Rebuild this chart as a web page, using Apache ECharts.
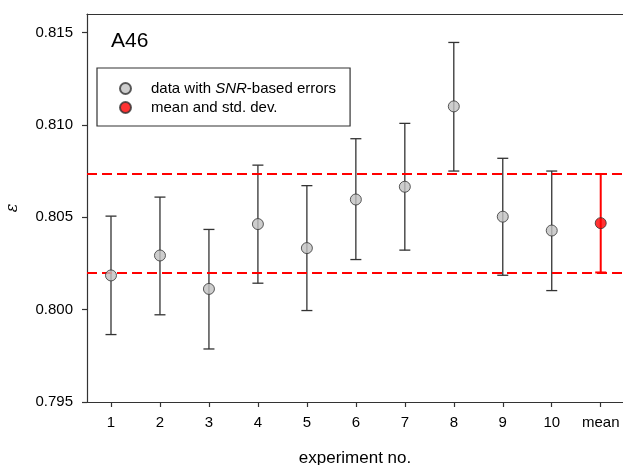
<!DOCTYPE html>
<html>
<head>
<meta charset="utf-8">
<script src="https://cdn.jsdelivr.net/npm/echarts@6/dist/echarts.min.js"></script>
<style>html,body{margin:0;padding:0;background:#fff;}#c{width:623px;height:465px;}</style>
</head>
<body>
<div id="c"></div>
<script>
// Data
var xPositions = [1, 2, 3, 4, 5, 6, 7, 8, 9, 10];
var xLabels = ['1', '2', '3', '4', '5', '6', '7', '8', '9', '10', 'mean'];
var values = [0.80185, 0.80293, 0.80112, 0.80463, 0.80333, 0.80596, 0.80665, 0.81100, 0.80503, 0.80428];
var lowers = [0.79865, 0.79972, 0.79787, 0.80143, 0.79995, 0.80271, 0.80322, 0.80750, 0.80186, 0.80103];
var uppers = [0.80506, 0.80609, 0.80434, 0.80782, 0.80671, 0.80925, 0.81008, 0.81446, 0.80819, 0.80750];
var meanPos = 11;
var meanValue = 0.80468;
var meanLower = 0.80201;
var meanUpper = 0.80734;
var yTicks = [0.795, 0.800, 0.805, 0.810, 0.815];
var xTicks = [1, 2, 3, 4, 5, 6, 7, 8, 9, 10, 11];

var FONT = '"Liberation Sans", Arial, sans-serif';
var chart = echarts.init(document.getElementById('c'));

function errRender(color, width) {
  return function (params, api) {
    var x = api.value(0);
    var lo = api.coord([x, api.value(1)]);
    var hi = api.coord([x, api.value(2)]);
    var hw = 5.5;
    var style = { stroke: color, lineWidth: width, fill: null };
    return {
      type: 'group',
      children: [
        { type: 'line', shape: { x1: lo[0], y1: lo[1], x2: hi[0], y2: hi[1] }, style: style },
        { type: 'line', shape: { x1: lo[0] - hw, y1: lo[1], x2: lo[0] + hw, y2: lo[1] }, style: style },
        { type: 'line', shape: { x1: hi[0] - hw, y1: hi[1], x2: hi[0] + hw, y2: hi[1] }, style: style }
      ]
    };
  };
}

var dataPoints = xPositions.map(function (x, i) { return [x, values[i]]; });
var dataErr = xPositions.map(function (x, i) { return [x, lowers[i], uppers[i]]; });

chart.setOption({
  animation: false,
  backgroundColor: '#fff',
  textStyle: { fontFamily: FONT },
  grid: { left: 87, top: 14, right: 0, bottom: 63, containLabel: false, outerBoundsMode: 'none' },
  graphic: [
    { type: 'text', left: 111, top: 31, style: { text: 'A46', font: '21px ' + FONT, fill: '#000' } }
  ],
  legend: {
    orient: 'vertical',
    left: 97,
    top: 68,
    padding: [13, 14, 11, 22],
    itemGap: 4,
    itemWidth: 11,
    itemHeight: 11,
    borderColor: '#333',
    borderWidth: 1.2,
    borderRadius: 0,
    icon: 'circle',
    data: ['data with SNR-based errors', 'mean and std. dev.'],
    formatter: function (name) {
      if (name === 'data with SNR-based errors') return '{n|data with }{i|SNR}{n|-based errors}';
      return '{n|' + name + '}';
    },
    textStyle: {
      fontFamily: FONT,
      fontSize: 15,
      color: '#000',
      padding: [0, 0, 0, 15],
      rich: {
        n: { fontFamily: FONT, fontSize: 15, color: '#000' },
        i: { fontFamily: FONT, fontSize: 15, color: '#000', fontStyle: 'italic' }
      }
    }
  },
  xAxis: [{
    type: 'value',
    min: 0.51,
    max: 11.455,
    name: 'experiment no.',
    nameLocation: 'middle',
    nameGap: 48,
    nameTextStyle: { fontFamily: FONT, fontSize: 17, color: '#000' },
    axisLine: { show: true, onZero: false, lineStyle: { color: '#333', width: 1.2 } },
    axisTick: { show: true, inside: false, length: 5, customValues: xTicks, lineStyle: { color: '#333', width: 1.2 } },
    axisLabel: {
      customValues: xTicks,
      margin: 13,
      fontFamily: FONT, fontSize: 15, color: '#000',
      formatter: function (v) { return xLabels[Math.round(v) - 1] || ''; }
    },
    splitLine: { show: false }
  }, {
    type: 'value',
    position: 'top',
    min: 0.51,
    max: 11.455,
    axisLine: { show: true, onZero: false, lineStyle: { color: '#333', width: 1.2 } },
    axisTick: { show: false },
    axisLabel: { show: false },
    splitLine: { show: false }
  }],
  yAxis: {
    type: 'value',
    min: 0.795,
    max: 0.816,
    name: 'ε',
    nameLocation: 'middle',
    nameRotate: 90,
    nameGap: 66,
    nameTextStyle: { fontFamily: '"DejaVu Serif", serif', fontSize: 16, fontStyle: 'italic', color: '#000' },
    axisLine: { show: true, onZero: false, lineStyle: { color: '#333', width: 1.2 } },
    axisTick: { show: true, inside: false, length: 5, customValues: yTicks, lineStyle: { color: '#333', width: 1.2 } },
    axisLabel: {
      customValues: yTicks,
      margin: 14,
      fontFamily: FONT, fontSize: 15, color: '#000',
      formatter: function (v) { return v.toFixed(3); }
    },
    splitLine: { show: false }
  },
  series: [
    {
      name: 'errData',
      type: 'custom',
      renderItem: errRender('#333', 1.3),
      data: dataErr,
      z: 2,
      silent: true
    },
    {
      name: 'errMean',
      type: 'custom',
      renderItem: errRender('#ff0000', 2),
      data: [[meanPos, meanLower, meanUpper]],
      z: 2,
      silent: true,
      markLine: {
        silent: true,
        precision: 6,
        symbol: ['none', 'none'],
        label: { show: false },
        lineStyle: { color: '#ff0000', width: 2, type: [10, 5] },
        data: [{ yAxis: meanUpper }, { yAxis: meanLower }]
      }
    },
    {
      name: 'data with SNR-based errors',
      type: 'scatter',
      symbol: 'circle',
      symbolSize: 11,
      itemStyle: { color: '#c0c0c0', borderColor: '#333', borderWidth: 1 },
      data: dataPoints,
      z: 5
    },
    {
      name: 'mean and std. dev.',
      type: 'scatter',
      symbol: 'circle',
      symbolSize: 11,
      itemStyle: { color: '#ff0000', borderColor: '#333', borderWidth: 1 },
      data: [[meanPos, meanValue]],
      z: 5
    }
  ]
});
</script>
</body>
</html>
